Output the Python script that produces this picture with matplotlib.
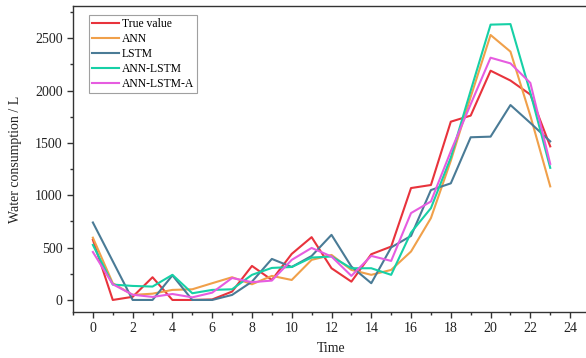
import numpy as np
import matplotlib
matplotlib.use('agg')
import matplotlib.pyplot as plt
from matplotlib.ticker import MultipleLocator

#------------------------------------------------------------------------------
# DATA
#------------------------------------------------------------------------------

time = np.arange(24)

true_value = [575, 0, 30, 217, 0, 0, 5, 80, 325, 191, 440, 600,
              303, 175, 437, 510, 1069, 1098, 1703, 1761, 2190, 2096, 1962, 1467]
ann = [595, 160, 48, 60, 96, 102, 160, 217, 150, 230, 191, 383,
       430, 287, 240, 287, 463, 782, 1330, 1940, 2531, 2372, 1760, 1085]
lstm = [740, 370, 0, 0, 235, 0, 0, 48, 175, 392, 315, 420,
        622, 319, 160, 502, 612, 1050, 1114, 1554, 1560, 1862, 1691, 1515]
ann_lstm = [526, 147, 134, 128, 240, 64, 96, 102, 240, 306, 315, 405,
            415, 303, 303, 240, 644, 877, 1360, 2000, 2630, 2635, 1980, 1262]
ann_lstm_a = [458, 150, 50, 29, 57, 25, 70, 210, 170, 185, 383, 497,
              415, 230, 421, 373, 830, 941, 1420, 1870, 2314, 2260, 2073, 1300]

labels = ['True value', 'ANN', 'LSTM', 'ANN-LSTM', 'ANN-LSTM-A']
colors = ['#e8333c', '#f0a04a', '#4a7b96', '#16d0a6', '#e65ce0']

#------------------------------------------------------------------------------
# STYLE
#------------------------------------------------------------------------------

plt.rcParams['font.family'] = ['Liberation Serif', 'DejaVu Serif']
plt.rcParams['font.size'] = 10

fig = plt.figure(figsize=(5.86, 3.58), dpi=100)
ax = fig.add_axes([73/586, 1 - 312/358, (590 - 73)/586, (312 - 6)/358])

series = [true_value, ann, lstm, ann_lstm, ann_lstm_a]
for s, lab, c in zip(series, labels, colors):
    ax.plot(time, s, color=c, lw=1.5, label=lab)

ax.set_xlim(-1, 25)
ax.set_ylim(-115, 2808)
ax.xaxis.set_major_locator(MultipleLocator(2))
ax.xaxis.set_minor_locator(MultipleLocator(1))
ax.yaxis.set_major_locator(MultipleLocator(500))
ax.yaxis.set_minor_locator(MultipleLocator(250))
ax.tick_params(which='major', direction='out', length=4, width=1, colors='#333333', labelcolor='#222222', labelsize=10)
ax.tick_params(which='minor', direction='out', length=2.5, width=1, colors='#333333')
ax.tick_params(top=False, right=False)
for sp in ax.spines.values():
    sp.set_linewidth(1.0)
    sp.set_color('#333333')

ax.set_xlabel('Time', fontsize=10, color='#222222', labelpad=5)
ax.set_ylabel('Water consumption / L', fontsize=10, color='#222222', labelpad=9)

leg = ax.legend(loc='upper left', bbox_to_anchor=(0.031, 0.97), frameon=True, fancybox=False,
                edgecolor='#888888', fontsize=8.4, handlelength=2.3, handletextpad=0.25,
                labelspacing=0.25, borderpad=0.25, borderaxespad=0.0)
leg.get_frame().set_linewidth(0.8)

plt.savefig('out.png', dpi=100)
print('** END')
